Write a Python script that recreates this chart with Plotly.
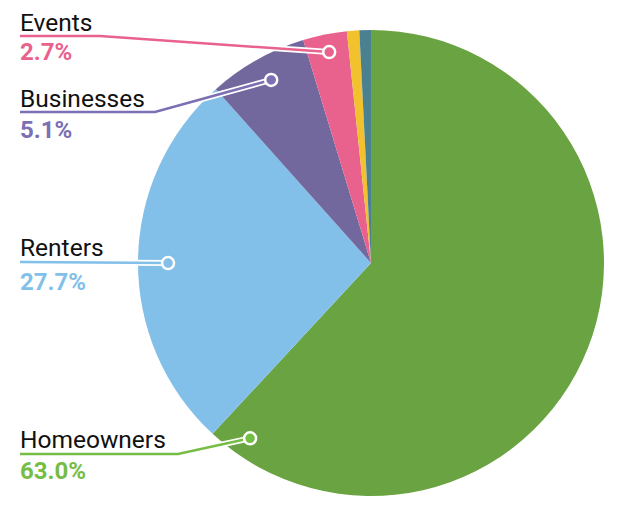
import plotly.graph_objects as go
import math

# ---- data ----
labels = ["Homeowners", "Renters", "Businesses", "Events", "Other A", "Other B"]
slice_values = [61.9, 26.5, 6.9, 3.05, 0.85, 0.8]          # slice sizes as drawn
label_pcts = ["63.0%", "27.7%", "5.1%", "2.7%"]              # percentages as printed
shown_labels = ["Homeowners", "Renters", "Businesses", "Events"]
slice_colors = ["#6aa341", "#82bfe9", "#72689d", "#e9628d", "#f2c12e", "#4a8190"]
label_colors = ["#76bd45", "#82bfe9", "#7d6fb4", "#e9628d"]

W, H = 621, 507
CX, CY, R = 371, 263, 233

# leader layout
leader = {
    "Events":     dict(ty=22,  py=52,  uy=36,  ex=100, af=0.52, rf=0.923),
    "Businesses": dict(ty=98,  py=130, uy=112, ex=155, af=0.53, rf=0.895),
    "Renters":    dict(ty=247, py=282, uy=262, ex=None, af=0.494, rf=0.871),
    "Homeowners": dict(ty=439, py=471, uy=454, ex=178, af=0.963, rf=0.914),
}

def px(x):
    return x / W

def py(y):
    return 1 - y / H

fig = go.Figure(go.Pie(
    labels=labels, values=slice_values, sort=False, direction="clockwise", rotation=0,
    marker=dict(colors=slice_colors, line=dict(width=0)),
    textinfo="none", hoverinfo="label", showlegend=False,
    domain=dict(x=[px(CX - R), px(CX + R)], y=[py(CY + R), py(CY - R)]),
))

total = sum(slice_values)
starts = []
acc = 0
for v in slice_values:
    starts.append(acc)
    acc += v

shapes = []
annotations = []
for i, name in enumerate(shown_labels):
    idx = labels.index(name)
    L = leader[name]
    a0 = starts[idx] / total * 360
    a1 = (starts[idx] + slice_values[idx]) / total * 360
    ang = math.radians(a0 + (a1 - a0) * L["af"])
    dx = CX + R * L["rf"] * math.sin(ang)
    dy = CY - R * L["rf"] * math.cos(ang)
    pts = [(20, L["uy"])]
    if L["ex"] is not None:
        pts.append((L["ex"], L["uy"]))
    pts.append((dx, dy))
    path = "M " + " L ".join(f"{px(x):.5f},{py(y):.5f}" for x, y in pts)
    col = label_colors[i]
    shapes.append(dict(type="path", path=path, xref="paper", yref="paper",
                       line=dict(color="white", width=6), layer="above"))
    shapes.append(dict(type="path", path=path, xref="paper", yref="paper",
                       line=dict(color=col, width=2.5), layer="above"))
    rr = 6
    shapes.append(dict(type="circle", xref="paper", yref="paper",
                       x0=px(dx - rr), x1=px(dx + rr), y0=py(dy + rr), y1=py(dy - rr),
                       fillcolor=col, line=dict(color="white", width=2.5), layer="above"))
    annotations.append(dict(text=name, x=px(18), y=py(L["ty"]), xref="paper", yref="paper",
                            xanchor="left", yanchor="middle", showarrow=False,
                            font=dict(family="Roboto", size=24.5, color="#111111")))
    annotations.append(dict(text=f"<b>{label_pcts[i]}</b>", x=px(18), y=py(L["py"]), xref="paper", yref="paper",
                            xanchor="left", yanchor="middle", showarrow=False,
                            font=dict(family="Roboto", size=24, color=col)))

fig.update_layout(
    width=W, height=H, margin=dict(l=0, r=0, t=0, b=0),
    paper_bgcolor="white", plot_bgcolor="white",
    shapes=shapes, annotations=annotations,
)
fig.write_html("out.html", config={"displayModeBar": False},
               post_script="document.body.style.margin='0';")
